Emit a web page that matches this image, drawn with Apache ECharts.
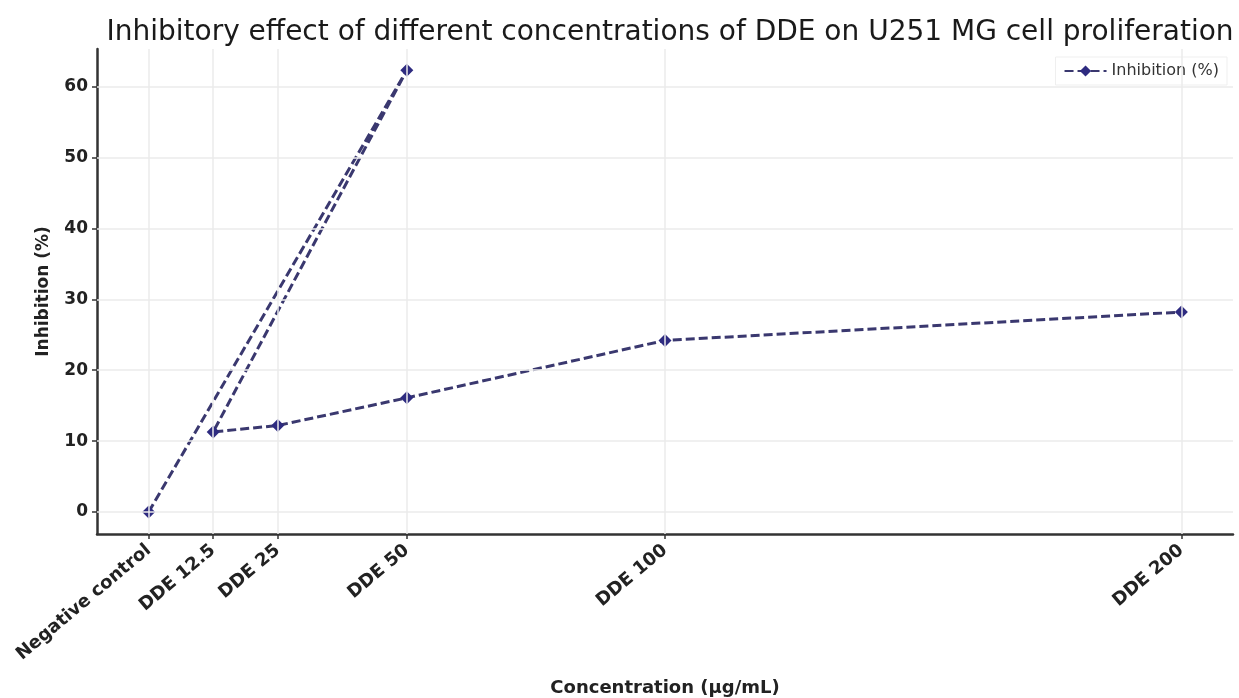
<!DOCTYPE html>
<html>
<head>
<meta charset="utf-8">
<script src="https://cdn.jsdelivr.net/npm/echarts@6/dist/echarts.min.js"></script>
<style>html,body{margin:0;padding:0;background:#fff;}#c{width:1239px;height:698px;}</style>
</head>
<body>
<div id="c"></div>
<script>
// Data (order as plotted in the reference)
const concentrations = [0, 50, 12.5, 25, 50, 100, 200];
const inhibition = [0, 62.3, 11.3, 12.2, 16.1, 24.2, 28.2];
// Tick positions and labels
const xTickValues = [0, 12.5, 25, 50, 100, 200];
const xTickLabels = ['Negative control', 'DDE 12.5', 'DDE 25', 'DDE 50', 'DDE 100', 'DDE 200'];
const yTickValues = [0, 10, 20, 30, 40, 50, 60];

const chart = echarts.init(document.getElementById('c'));
const font = 'DejaVu Sans';
const gridColor = '#ebebeb';
chart.setOption({
  animation: false,
  backgroundColor: '#fff',
  title: {
    text: 'Inhibitory effect of different concentrations of DDE on U251 MG cell proliferation',
    left: 665, top: 14, textAlign: 'center',
    textStyle: {fontFamily: font, fontSize: 28, fontWeight: 500, color: '#1a1a1a'}
  },
  legend: {
    data: ['Inhibition (%)'],
    right: 12, top: 57,
    itemWidth: 42, itemHeight: 14, itemGap: 10,
    padding: [6, 8],
    backgroundColor: 'rgba(255,255,255,0.9)',
    borderColor: '#efefef', borderWidth: 1,
    textStyle: {fontFamily: font, fontSize: 16, color: '#333'}
  },
  grid: {left: 97, right: 6, top: 49, bottom: 164, containLabel: false, outerBoundsMode: 'none'},
  xAxis: {
    type: 'value', min: -10, max: 210,
    name: 'Concentration (µg/mL)', nameLocation: 'middle', nameGap: 145,
    nameTextStyle: {fontFamily: font, fontSize: 18, fontWeight: 600, color: '#222'},
    axisLine: {onZero: false, lineStyle: {color: '#333', width: 2.5}},
    axisTick: {customValues: xTickValues, length: 5, lineStyle: {color: '#333', width: 1.5}},
    axisLabel: {
      customValues: xTickValues, rotate: 40, margin: 14,
      fontFamily: font, fontSize: 18, fontWeight: 600, color: '#222',
      formatter: v => xTickLabels[xTickValues.indexOf(v)] || ''
    },
    splitLine: {show: false}
  },
  yAxis: {
    type: 'value', min: -3.1, max: 65.3,
    name: 'Inhibition (%)', nameLocation: 'middle', nameGap: 45, nameRotate: 90,
    nameTextStyle: {fontFamily: font, fontSize: 17, fontWeight: 600, color: '#222'},
    axisLine: {show: true, onZero: false, lineStyle: {color: '#333', width: 2.5}},
    axisTick: {show: true, customValues: yTickValues, length: 5, lineStyle: {color: '#333', width: 1.5}},
    axisLabel: {
      customValues: yTickValues, margin: 9,
      fontFamily: font, fontSize: 17, fontWeight: 600, color: '#222'
    },
    splitLine: {show: false}
  },
  series: [
    {
      name: 'grid', type: 'line', data: [], z: 1, silent: true,
      markLine: {
        silent: true, symbol: 'none', label: {show: false},
        lineStyle: {color: gridColor, width: 1.5, type: 'solid'},
        emphasis: {disabled: true},
        data: xTickValues.map(v => ({xAxis: v})).concat(yTickValues.map(v => ({yAxis: v})))
      }
    },
    {
      name: 'Inhibition (%)', type: 'line', z: 3,
      data: concentrations.map((c, i) => [c, inhibition[i]]),
      symbol: 'diamond', symbolSize: 13, showAllSymbol: true,
      lineStyle: {color: '#3a386f', width: 3, type: [9, 4]},
      itemStyle: {color: '#2e2b80', borderWidth: 0}
    }
  ]
});
</script>
</body>
</html>
